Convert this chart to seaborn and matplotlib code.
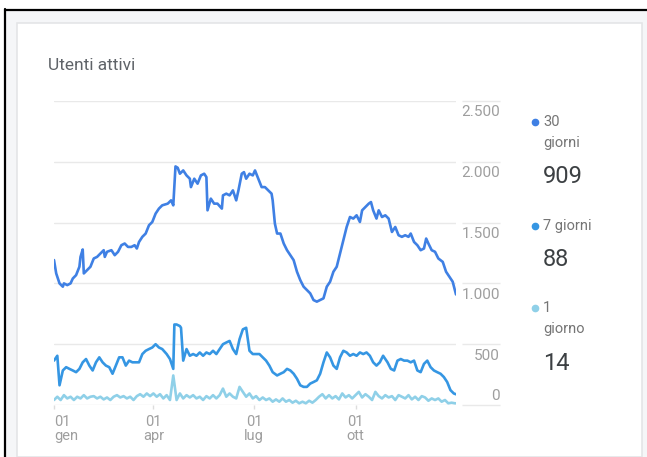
import pandas as pd
import seaborn as sns
import matplotlib.pyplot as plt
import matplotlib.transforms as mtransforms
from matplotlib.patches import Rectangle
from matplotlib.lines import Line2D

# --- data (day offset from 1 Jan, active users) ---
giorni_30 = [0, 2, 5, 8, 9, 12, 15, 17, 20, 23, 24, 26, 27, 30, 33, 36, 39, 42, 45, 46,
             48, 52, 55, 58, 61, 64, 67, 70, 73, 75, 77, 80, 83, 86, 89, 92, 95, 98, 103, 106,
             108, 110, 112, 114, 117, 120, 123, 124, 127, 130, 133, 136, 138, 139, 142, 145, 148, 152, 153, 156,
             159, 162, 165, 167, 170, 172, 174, 177, 180, 182, 185, 188, 191, 194, 197, 198, 200, 202, 205, 208,
             211, 214, 217, 220, 223, 226, 229, 232, 235, 238, 241, 244, 247, 250, 253, 256, 259, 262, 265, 268,
             271, 274, 277, 279, 282, 285, 287, 289, 292, 294, 297, 300, 303, 306, 309, 312, 315, 318, 321, 323,
             326, 329, 332, 335, 337, 339, 342, 345, 348, 352, 355, 358, 361, 364]
utenti_30 = [1192, 1082, 1000, 973, 1000, 986, 1000, 1040, 1068, 1137, 1218, 1279, 1082, 1109, 1137, 1205, 1218, 1246, 1273, 1218,
             1260, 1273, 1232, 1260, 1314, 1328, 1300, 1300, 1314, 1287, 1341, 1383, 1410, 1478, 1505, 1574, 1615, 1642, 1656, 1683,
             1642, 1962, 1951, 1902, 1929, 1888, 1861, 1792, 1861, 1820, 1888, 1902, 1874, 1601, 1697, 1656, 1656, 1615, 1724, 1738,
             1724, 1765, 1683, 1765, 1902, 1915, 1861, 1902, 1888, 1929, 1861, 1792, 1792, 1765, 1738, 1683, 1492, 1410, 1410, 1328,
             1273, 1232, 1191, 1096, 1027, 973, 945, 918, 863, 850, 863, 877, 973, 1014, 1096, 1137, 1246, 1355, 1464, 1546,
             1533, 1560, 1505, 1601, 1628, 1656, 1669, 1601, 1533, 1601, 1546, 1560, 1533, 1423, 1464, 1396, 1383, 1396, 1383, 1410,
             1341, 1314, 1273, 1287, 1369, 1328, 1273, 1260, 1205, 1177, 1096, 1055, 1014, 909]

giorni_7 = [0, 3, 5, 8, 11, 14, 17, 20, 23, 26, 29, 32, 35, 38, 41, 44, 47, 50, 53, 56,
            59, 62, 65, 68, 71, 74, 77, 80, 83, 86, 89, 92, 95, 98, 102, 105, 108, 109, 111, 114,
            115, 117, 120, 123, 126, 129, 132, 135, 138, 141, 144, 147, 150, 153, 156, 159, 162, 165, 168, 171,
            174, 177, 180, 183, 186, 189, 192, 195, 198, 202, 205, 208, 211, 214, 217, 220, 223, 226, 229, 232,
            235, 238, 241, 244, 247, 250, 253, 256, 259, 262, 265, 268, 271, 274, 277, 280, 283, 286, 289, 292,
            295, 298, 302, 305, 308, 311, 314, 317, 320, 323, 326, 329, 332, 335, 338, 341, 344, 347, 350, 353,
            356, 359, 362, 364]
utenti_7 = [365, 405, 162, 284, 311, 297, 284, 270, 297, 351, 378, 324, 284, 351, 392, 351, 324, 311, 257, 324,
            392, 392, 324, 365, 351, 351, 351, 419, 446, 460, 473, 500, 473, 460, 419, 378, 297, 662, 662, 649,
            635, 365, 460, 405, 419, 405, 432, 405, 432, 419, 446, 419, 460, 500, 514, 527, 460, 419, 541, 622,
            635, 446, 419, 419, 419, 392, 365, 324, 270, 243, 257, 270, 297, 284, 257, 216, 162, 149, 149, 176,
            189, 203, 257, 351, 432, 392, 324, 297, 392, 446, 432, 405, 419, 405, 432, 419, 432, 405, 351, 324,
            351, 405, 351, 297, 284, 365, 378, 365, 365, 351, 365, 284, 270, 338, 365, 311, 284, 270, 257, 230,
            189, 122, 95, 88]

giorni_1 = list(range(0, 364, 3)) + [364]
utenti_1 = [41, 68, 41, 81, 54, 68, 41, 68, 54, 81, 54, 68, 73, 54, 68, 46, 62, 41, 68, 81,
            62, 73, 54, 68, 41, 73, 89, 68, 95, 73, 95, 68, 89, 54, 81, 41, 243, 41, 95, 54,
            81, 62, 81, 54, 68, 41, 73, 54, 81, 54, 81, 135, 68, 95, 68, 54, 149, 108, 68, 95,
            54, 73, 41, 62, 41, 54, 27, 46, 27, 54, 27, 41, 19, 35, 14, 27, 14, 35, 19, 41,
            68, 89, 54, 81, 54, 73, 46, 95, 62, 81, 54, 81, 108, 62, 89, 68, 41, 108, 73, 54,
            81, 62, 73, 41, 81, 68, 54, 81, 46, 68, 41, 73, 62, 35, 54, 41, 54, 27, 41, 14,
            19, 14, 14]

serie = ["30 giorni", "7 giorni", "1 giorno"]
legenda = [["30", "giorni"], ["7 giorni"], ["1", "giorno"]]
colori = {"30 giorni": "#3f80e4", "7 giorni": "#3596e3", "1 giorno": "#8fd0e8"}
mesi_tick = ["2019-01-01", "2019-04-01", "2019-07-01", "2019-10-01"]
mesi_label = ["01\ngen", "01\napr", "01\nlug", "01\nott"]
y_ticks = [0, 500, 1000, 1500, 2000, 2500]

inizio = pd.Timestamp("2019-01-01")
parts = []
for nome, gg, vv in [("1 giorno", giorni_1, utenti_1),
                     ("7 giorni", giorni_7, utenti_7),
                     ("30 giorni", giorni_30, utenti_30)]:
    parts.append(pd.DataFrame({"data": inizio + pd.to_timedelta(gg, unit="D"),
                               "utenti": vv, "serie": nome}))
df = pd.concat(parts, ignore_index=True)

sns.set_theme(style="white")
plt.rcParams["font.family"] = ["Roboto", "DejaVu Sans"]

W, H = 647, 457
fig = plt.figure(figsize=(W / 100, H / 100), dpi=100)
fig.patch.set_facecolor("white")


def fx(px):
    return px / W


def fy(py):
    return 1 - py / H


# page background, card and screenshot frame
fig.add_artist(Rectangle((fx(6), 0), fx(641), fy(10), transform=fig.transFigure,
                         facecolor="#f5f6f8", edgecolor="none", zorder=-10))
fig.add_artist(Rectangle((fx(17), 0), fx(625), fy(23), transform=fig.transFigure,
                         facecolor="white", edgecolor="#e4e5e7", lw=1.2, zorder=-9))
fig.add_artist(Line2D([fx(5), fx(5)], [0, fy(9)], transform=fig.transFigure, color="black", lw=1.6))
fig.add_artist(Line2D([fx(5), 1], [fy(9.5), fy(9.5)], transform=fig.transFigure, color="black", lw=1.6))

fig.text(fx(48), fy(65), "Utenti attivi", fontsize=12.5, color="#5f6368", va="center", ha="left")

ax = fig.add_axes([fx(54), fy(405), fx(456) - fx(54), fy(101) - fy(405)])
ax.set_facecolor("none")

sns.lineplot(data=df, x="data", y="utenti", hue="serie", hue_order=serie[::-1],
             palette=colori, linewidth=1.9, legend=False, ax=ax)

ax.set_xlim(inizio, pd.Timestamp("2019-12-31"))
ax.set_ylim(0, 2500)
ax.set_xlabel("")
ax.set_ylabel("")
sns.despine(ax=ax, left=True, bottom=True, right=True, top=True)

ax.set_yticks(y_ticks)
ax.yaxis.grid(True, color="#e9e9e9", lw=1)
ax.tick_params(axis="y", left=False, labelleft=False)

ax.set_xticks(pd.to_datetime(mesi_tick), mesi_label)
ax.tick_params(axis="x", bottom=True, length=3, width=1, color="#dddddd",
               labelsize=10.5, labelcolor="#9e9e9e", pad=4)
for i, lab in enumerate(ax.get_xticklabels()):
    # first label can't be centred at the left edge
    lab.set_ha("left" if i == 0 else "center")
    lab.set_multialignment("left" if i == 0 else "center")
    lab.set_linespacing(1.0)

# y labels on the right, under their gridline (0 sits above)
ytrans = ax.get_yaxis_transform()
ax.hlines(y_ticks, (462 - 54) / 402, (500 - 54) / 402, transform=ytrans,
          color="#e9e9e9", lw=1, clip_on=False)
for v in y_ticks:
    off = 5 if v == 0 else -15.5
    tr = mtransforms.offset_copy(ytrans, fig=fig, y=off * 0.72, units="points")
    ax.text((500 - 54) / 402, v, f"{v:,}".replace(",", "."), transform=tr,
            ha="right", va="baseline", fontsize=11, color="#9e9e9e", clip_on=False)

# legend with latest values
ultimi = {"30 giorni": utenti_30[-1], "7 giorni": utenti_7[-1], "1 giorno": utenti_1[-1]}
righe_y = {"30 giorni": 122, "7 giorni": 226, "1 giorno": 308}
for nome, righe in zip(serie, legenda):
    y0 = righe_y[nome]
    fig.add_artist(Line2D([fx(535)], [fy(y0)], transform=fig.transFigure, marker="o",
                          markersize=4.5, color=colori[nome], lw=0))
    for i, r in enumerate(righe):
        fig.text(fx(543), fy(y0 + 21 * i), r, fontsize=10.5, color="#757575", va="center", ha="left")
    fig.text(fx(543), fy(y0 + 21 * len(righe) + 13),
             str(ultimi[nome]), fontsize=17, color="#3c4043", va="center", ha="left")

fig.savefig("out.png", dpi=100)
